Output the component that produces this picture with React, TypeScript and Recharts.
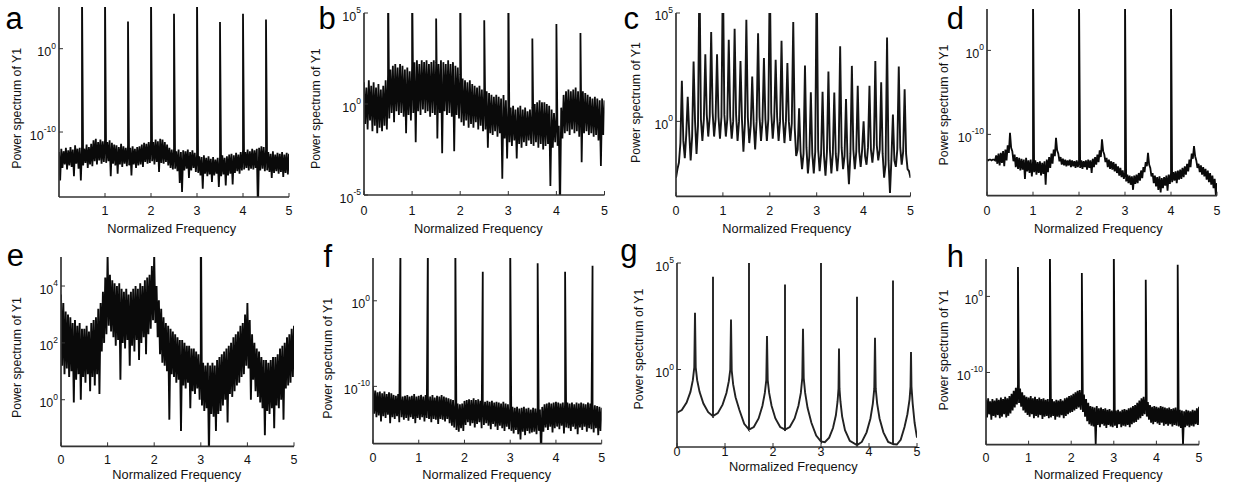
import React from 'react';
import { LineChart, Line, XAxis, YAxis } from 'recharts';

const FONT = '"Liberation Sans", Arial, Helvetica, sans-serif';

// Frequency sampling of the spectra (normalized frequency units)
const NOISE_STEP = 0.025;
const COMB_STEP = 0.03125;

// ---------------- DATA: log10 of the power spectrum ----------------
// a
const aPower = [
  -12.4,-15.8,-12.0,-14.3,-12.3,-13.9,-11.9,-14.5,-12.2,-14.0,
  -11.8,-14.2,-12.1,-15.3,-11.6,-13.8,-12.0,-14.4,-11.9,-15.8,
  -11.7,-14.0,-12.0,-13.7,-11.5,-14.3,-11.8,-13.9,-11.4,-14.1,
  -11.0,-13.5,-10.8,-13.9,-11.2,-13.4,-10.9,-13.8,-11.1,-13.6,
  -10.9,-13.7,-11.2,-13.5,-11.0,-15.3,-11.3,-13.8,-11.5,-14.0,
  -11.6,-15.0,-11.8,-13.9,-11.4,-14.2,-11.7,-13.8,-11.9,-14.1,
  -11.6,-14.0,-11.9,-15.2,-11.7,-13.9,-12.0,-14.3,-11.8,-14.0,
  -11.7,-13.9,-11.5,-14.2,-11.3,-13.6,-11.4,-13.8,-11.2,-13.7,
  -11.0,-13.5,-11.2,-13.9,-10.9,-13.6,-11.1,-14.8,-10.8,-13.7,
  -10.9,-13.8,-11.2,-13.6,-11.5,-14.0,-11.9,-14.3,-12.1,-14.5,
  -12.0,-14.4,-12.3,-14.7,-12.1,-16.1,-12.4,-17.2,-12.2,-14.6,
  -12.3,-14.4,-12.1,-15.5,-12.4,-14.6,-12.2,-14.3,-12.5,-14.8,
  -12.7,-14.9,-12.9,-15.2,-13.0,-16.8,-12.8,-15.0,-13.1,-15.3,
  -12.9,-15.1,-13.2,-16.0,-13.0,-15.2,-13.3,-15.0,-13.1,-16.6,
  -13.0,-15.3,-12.8,-15.1,-13.1,-16.4,-12.9,-15.2,-12.7,-15.0,
  -12.6,-16.3,-12.8,-14.9,-12.5,-14.7,-12.7,-15.0,-12.4,-14.6,
  -12.2,-14.5,-12.4,-14.3,-12.1,-14.6,-12.3,-14.4,-12.0,-14.5,
  -12.2,-14.3,-12.0,-19.5,-11.9,-14.6,-11.7,-14.4,-11.8,-14.7,
  -12.1,-14.6,-12.4,-14.8,-12.6,-15.5,-12.3,-14.9,-12.7,-14.7,
  -12.5,-15.0,-12.6,-14.8,-12.4,-15.4,-12.7,-14.9,-12.5,-15.1,
  -12.6,
];
const aSpikeFreq = [0.5, 1, 1.5, 2, 2.5, 3, 3.5, 4, 4.5];
const aSpikeTop = [7, 7, 3.25, 7, 4.2, 7, 3.2, 4.2, 3.5];

// b
const bPower = [
  1.2,-1.1,0.9,-1.4,1.3,-0.9,1.0,-1.5,1.2,-1.2,
  0.9,-1.6,1.1,-1.3,0.8,-1.5,1.0,-1.2,1.3,-1.4,
  1.6,-0.8,1.9,-0.5,2.1,-1.0,2.2,-0.4,2.0,-0.6,
  2.2,-0.5,2.1,-0.7,1.9,-1.6,2.0,-0.6,1.8,-0.9,
  2.1,-0.5,2.3,-2.1,2.4,-0.4,2.2,-0.6,2.4,-0.3,
  2.3,-0.5,2.4,-0.4,2.2,-0.7,2.3,-0.5,2.4,-0.6,
  2.3,-1.9,2.2,-0.5,2.4,-2.7,2.3,-0.4,2.2,-0.6,
  2.4,-0.5,2.2,-0.7,2.3,-2.6,2.1,-0.6,2.0,-0.8,
  1.6,-1.0,1.4,-1.2,1.3,-0.9,1.2,-1.3,1.3,-1.1,
  1.1,-1.3,1.0,-1.0,0.9,-1.4,1.0,-1.2,0.8,-1.5,
  0.9,-1.4,0.7,-2.4,0.6,-1.6,0.5,-1.7,0.4,-1.5,
  0.5,-1.8,0.4,-1.6,0.3,-4.1,0.5,-1.9,0.2,-3.0,
  -0.1,-2.1,-0.2,-2.3,-0.1,-2.0,-0.3,-3.0,-0.2,-2.2,
  -0.1,-2.4,-0.3,-2.1,-0.2,-2.3,-0.4,-2.0,-0.3,-2.2,
  -0.2,-2.3,0.0,-2.1,0.1,-2.4,0.2,-2.2,0.1,-2.5,
  0.1,-2.3,0.0,-2.2,-0.1,-4.5,-0.3,-2.4,-0.5,-2.1,
  -0.6,-2.3,-1.2,-6.0,-0.2,-1.9,0.5,-1.6,0.7,-1.5,
  0.8,-1.7,0.7,-1.4,0.8,-1.6,0.9,-1.5,0.7,-1.8,
  0.8,-3.2,0.7,-1.6,0.6,-1.5,0.5,-1.7,0.4,-1.6,
  0.3,-1.8,0.4,-1.7,0.3,-2.0,0.2,-3.4,0.3,-1.7,
  0.2,
];
const bSpikeFreq = [0.5, 1, 1.5, 2, 2.5, 3, 3.5, 4, 4.5];
const bSpikeTop = [7, 7, 4.7, 7, 4.6, 7, 3.6, 4.4, 3.9];

// c : comb spectrum, 4 samples per 1/8 period (peak, shoulder, valley, shoulder)
const cPower = [
  -2.6,-2.2,-1.9,-1.0,
  1.87,-0.9,-1.7,-0.6,
  1.14,-0.5,-1.8,-0.7,
  2.76,0.0,-1.5,-0.2,
  7,0.1,-0.9,0.1,
  3.1,0.3,-0.7,0.2,
  4.12,0.4,-0.7,0.1,
  3.1,0.2,-0.8,0.2,
  7,0.3,-0.7,0.1,
  3.76,0.2,-0.8,0.0,
  4.27,0.3,-0.9,0.0,
  2.79,0.1,-1.4,-0.1,
  4.69,0.2,-1.0,-0.2,
  2.07,-0.1,-1.3,0.0,
  4.07,0.2,-0.9,0.0,
  2.92,0.1,-0.9,0.1,
  7,0.4,-0.8,0.1,
  2.84,0.2,-0.9,0.0,
  3.72,0.1,-1.0,0.0,
  2.69,0.0,-0.9,-0.1,
  4.58,-0.3,-1.6,-1.3,
  0.6,-1.4,-2.2,-1.5,
  2.58,-1.2,-2.4,-1.6,
  1.34,-1.5,-2.4,-1.4,
  7,-1.3,-2.3,-1.5,
  1.37,-1.6,-2.5,-1.4,
  2.3,-1.3,-2.4,-1.5,
  1.33,-1.5,-2.3,-1.4,
  3.46,-1.2,-2.2,-1.6,
  1.03,-1.7,-2.9,-1.5,
  2.56,-1.3,-2.2,-1.4,
  1.64,-1.4,-2.1,-1.3,
  0.0,-1.6,-2.0,-1.2,
  1.64,-1.3,-1.9,-1.2,
  2.79,-1.1,-1.8,-1.3,
  1.81,-1.5,-2.6,-2.0,
  3.87,-1.8,-3.3,-1.7,
  0.32,-1.8,-2.1,-1.3,
  2.53,-1.2,-2.0,-1.4,
  1.48,-1.5,-2.2,-2.3,
  -2.6,
];

// d
const dPower = [
  -13.0,-13.1,-13.0,-13.0,-13.1,-13.0,-13.0,-13.1,-12.5,-13.5,
  -12.3,-13.7,-12.2,-13.4,-12.0,-13.8,-11.8,-13.1,-11.3,-12.2,
  -9.8,-11.6,-12.0,-13.2,-12.4,-13.9,-12.7,-14.1,-12.8,-14.3,
  -12.9,-14.2,-13.0,-15.3,-12.8,-14.4,-13.1,-14.6,-13.0,-15.0,
  -13.2,-14.5,-13.1,-14.8,-13.3,-14.6,-13.2,-14.9,-13.4,-14.7,
  -13.2,-16.0,-13.0,-14.5,-12.7,-14.0,-12.3,-13.5,-11.8,-12.6,
  -10.4,-11.9,-12.3,-13.2,-12.7,-13.6,-12.9,-13.7,-13.0,-13.8,
  -13.1,-13.7,-13.0,-13.9,-13.1,-13.8,-13.2,-14.0,-13.1,-13.9,
  -13.2,-14.0,-13.1,-14.1,-13.2,-13.9,-13.1,-14.2,-13.0,-14.0,
  -13.1,-14.6,-12.9,-13.9,-12.7,-13.6,-12.4,-13.3,-11.9,-12.7,
  -10.6,-12.0,-12.4,-13.3,-12.8,-13.9,-13.0,-14.1,-13.2,-14.2,
  -13.3,-14.4,-13.5,-14.6,-13.8,-14.9,-14.0,-15.1,-14.3,-15.3,
  -14.6,-15.6,-14.8,-15.8,-14.9,-16.0,-15.0,-16.6,-14.9,-15.9,
  -14.8,-15.8,-14.6,-15.5,-14.3,-15.2,-13.9,-14.5,-13.3,-13.8,
  -12.2,-13.6,-14.0,-15.0,-14.6,-15.8,-14.9,-16.2,-15.1,-16.6,
  -15.0,-16.9,-15.2,-16.4,-15.1,-16.1,-14.9,-16.7,-14.8,-15.9,
  -14.6,-15.7,-14.5,-15.5,-14.4,-15.8,-14.3,-15.4,-14.2,-15.3,
  -14.0,-15.1,-13.8,-14.8,-13.5,-14.4,-13.0,-13.9,-12.3,-12.9,
  -11.4,-12.6,-13.1,-14.0,-13.5,-14.5,-13.7,-14.8,-13.9,-15.0,
  -14.1,-15.4,-14.3,-15.7,-14.6,-16.0,-14.9,-16.4,-15.3,-17.2,
  -15.8,
];
const dSpikeFreq = [1, 2, 3, 4];
const dSpikeTop = [7, 7, 7, 7];

// e
const ePower = [
  3.7,1.2,3.4,0.9,3.1,1.1,3.0,0.8,2.9,1.0,
  2.7,-0.1,2.8,0.7,2.6,0.9,2.7,0.0,2.5,0.8,
  2.5,0.6,2.6,0.9,2.4,0.3,2.7,0.8,2.8,0.5,
  2.9,0.9,3.2,0.2,3.4,1.7,3.8,2.0,4.3,2.3,
  5.1,2.6,4.4,2.4,4.2,2.2,4.1,1.9,4.0,2.1,
  4.1,0.7,3.9,2.0,3.8,1.8,3.9,2.1,3.7,1.2,
  3.8,1.9,3.9,1.7,4.0,2.1,3.9,1.4,4.1,2.0,
  4.0,2.2,4.2,1.6,4.3,2.3,4.4,2.5,4.7,2.8,
  5.1,2.7,4.0,2.2,3.5,1.6,3.2,1.3,2.9,1.2,
  2.7,1.0,2.6,-0.7,2.5,0.9,2.4,0.8,2.3,0.6,
  2.2,0.7,2.1,-1.1,2.1,0.5,2.0,0.4,1.9,0.6,
  1.9,-0.3,1.8,0.3,1.8,0.2,1.7,0.4,1.6,0.0,
  1.4,-0.2,1.3,-0.4,1.2,-0.3,1.3,-2.0,1.2,-0.5,
  1.3,-0.6,1.2,-1.1,1.4,-0.5,1.5,-0.4,1.6,-0.2,
  1.7,0.0,1.8,-0.8,1.9,0.2,2.0,0.1,2.2,0.3,
  2.3,0.5,2.4,0.6,2.6,0.8,2.7,0.9,3.0,1.2,
  3.4,1.1,2.8,0.0,2.3,0.7,2.0,0.3,1.8,0.1,
  1.7,-0.1,1.5,-0.3,1.4,-1.25,1.4,-0.4,1.3,-0.5,
  1.4,-0.3,1.5,-1.0,1.5,-0.2,1.6,-0.3,1.8,0.0,
  1.9,-0.7,2.0,0.4,2.2,0.5,2.3,0.6,2.5,0.8,
  2.6,
];
const eSpikeFreq = [3];
const eSpikeTop = [7];

// f
const fPower = [
  -10.0,-13.2,-10.5,-13.6,-10.7,-13.4,-10.6,-14.1,-10.8,-13.5,
  -10.6,-13.7,-10.9,-13.3,-10.7,-14.3,-10.8,-13.6,-11.0,-13.8,
  -11.1,-13.5,-10.9,-14.2,-11.0,-13.6,-11.2,-13.9,-11.1,-13.7,
  -11.0,-14.0,-11.2,-13.6,-11.1,-13.8,-10.9,-14.3,-11.2,-13.7,
  -11.1,-13.9,-11.0,-13.6,-11.2,-14.1,-11.0,-13.7,-11.1,-13.8,
  -11.2,-14.2,-11.0,-13.8,-11.3,-13.9,-11.1,-14.4,-11.2,-13.8,
  -11.0,-13.9,-11.2,-14.1,-11.3,-13.8,-11.4,-14.3,-11.5,-14.6,
  -11.6,-14.8,-11.9,-15.1,-12.0,-15.3,-12.1,-14.9,-12.0,-15.2,
  -11.7,-14.5,-11.6,-14.2,-11.5,-14.6,-11.6,-14.3,-11.4,-14.8,
  -11.6,-14.4,-11.5,-14.2,-11.7,-14.9,-11.6,-14.5,-11.8,-14.3,
  -11.7,-14.6,-11.8,-15.0,-11.7,-14.4,-11.9,-14.7,-11.8,-15.1,
  -11.9,-14.6,-12.0,-14.9,-11.8,-15.2,-12.0,-14.7,-12.1,-15.0,
  -12.3,-15.2,-12.4,-15.5,-12.5,-15.1,-12.4,-15.6,-12.6,-16.2,
  -12.5,-15.3,-12.4,-15.7,-12.6,-15.2,-12.5,-15.5,-12.7,-15.4,
  -12.5,-15.3,-12.6,-15.6,-12.5,-15.2,-12.7,-18.0,-12.4,-15.3,
  -12.1,-14.8,-12.0,-15.1,-11.9,-14.7,-12.0,-15.4,-11.9,-14.9,
  -11.8,-14.7,-11.9,-15.0,-12.0,-14.6,-11.9,-15.5,-11.8,-14.8,
  -11.9,-14.9,-12.0,-15.2,-11.9,-14.7,-12.1,-15.0,-11.9,-15.6,
  -12.0,-14.8,-11.9,-15.1,-12.0,-14.7,-12.1,-15.3,-11.9,-14.9,
  -12.0,-15.0,-12.1,-15.4,-12.2,-14.9,-12.3,-15.7,-12.4,-15.2,
  -12.5,
];
const fSpikeFreq = [0.6, 1.2, 1.8, 2.4, 3.0, 3.6, 4.2, 4.8];
const fSpikeTop = [7, 7, 7, 3.4, 7, 4.4, 3.4, 4.1];

// g : smooth resonance curve with sharp lines
const gFreq = [
  0,0.1,0.2,0.28,0.33,0.36,0.375,0.39,0.42,0.47,0.55,0.65,0.75,0.75,0.75,
  0.85,0.95,1.03,1.08,1.11,1.125,1.14,1.17,1.22,1.3,1.4,1.5,1.5,1.5,
  1.6,1.7,1.78,1.83,1.86,1.875,1.89,1.92,1.97,2.05,2.15,2.25,2.25,2.25,
  2.35,2.45,2.53,2.58,2.61,2.625,2.64,2.67,2.72,2.8,2.9,3.0,3.0,3.0,3.08,
  3.17,3.25,3.31,3.345,3.365,3.375,3.385,3.405,3.44,3.5,3.6,3.75,3.75,3.75,
  3.85,3.95,4.03,4.08,4.11,4.125,4.14,4.17,4.22,4.3,4.4,4.5,4.5,4.5,4.58,
  4.66,4.74,4.8,4.845,4.865,4.875,4.885,4.91,4.95,5.0,
];
const gPower = [
  -2.03,-1.9,-1.55,-1.05,-0.5,0.1,2.66,0.1,-0.5,-1.05,-1.6,-2.0,-2.19,4.35,-2.19,
  -2.05,-1.65,-1.1,-0.55,0.0,2.35,-0.05,-0.7,-1.3,-1.9,-2.55,-2.82,7,-2.82,
  -2.7,-2.3,-1.7,-1.1,-0.5,1.57,-0.5,-1.1,-1.7,-2.3,-2.7,-2.82,3.99,-2.82,
  -2.7,-2.3,-1.7,-1.1,-0.4,1.91,-0.4,-1.1,-1.8,-2.5,-3.1,-3.38,7,-3.38,-3.41,
  -3.2,-2.75,-2.15,-1.5,-0.9,0.99,-0.9,-1.5,-2.2,-2.85,-3.35,-3.55,3.41,-3.55,
  -3.4,-2.95,-2.3,-1.6,-0.9,1.49,-0.9,-1.6,-2.3,-2.95,-3.4,-3.5,4.18,-3.5,-3.52,
  -3.3,-2.7,-2.1,-1.4,-0.8,0.82,-0.8,-1.6,-2.5,-3.2,
];

// h
const hPower = [
  -13.6,-15.9,-13.4,-15.5,-13.8,-16.2,-13.5,-15.7,-13.7,-15.9,
  -13.4,-15.6,-13.6,-16.0,-13.3,-15.8,-13.5,-15.5,-13.2,-15.9,
  -13.4,-15.7,-13.1,-15.4,-12.8,-15.0,-12.4,-14.6,-12.0,-14.2,
  -11.6,-14.0,-12.1,-14.5,-12.6,-15.0,-13.0,-15.3,-13.2,-15.6,
  -13.3,-15.8,-13.1,-15.5,-13.4,-16.0,-13.2,-15.7,-13.5,-15.9,
  -13.3,-15.6,-13.5,-16.1,-13.4,-15.8,-13.6,-15.7,-13.5,-16.0,
  -13.7,-15.9,-13.5,-15.7,-13.8,-16.2,-13.6,-15.8,-13.7,-15.9,
  -13.5,-15.6,-13.7,-16.0,-13.4,-15.7,-13.3,-15.5,-13.1,-15.3,
  -13.0,-15.2,-12.8,-15.0,-12.6,-14.8,-12.4,-14.6,-12.3,-14.9,
  -12.4,-15.2,-12.9,-15.8,-13.5,-16.4,-14.0,-16.8,-14.4,-17.0,
  -14.5,-17.1,-14.6,-19.5,-14.4,-16.9,-14.7,-17.2,-14.6,-16.8,
  -14.8,-17.0,-14.7,-17.3,-14.9,-16.9,-14.8,-17.1,-15.0,-17.2,
  -14.8,-17.0,-15.0,-17.3,-14.9,-16.8,-15.1,-17.2,-14.9,-17.0,
  -14.8,-17.1,-14.9,-16.9,-14.7,-17.2,-14.6,-16.8,-14.4,-16.6,
  -14.3,-16.5,-14.0,-16.2,-13.7,-16.0,-13.4,-15.7,-13.2,-15.5,
  -13.4,-15.8,-13.9,-16.2,-14.3,-16.6,-14.5,-16.8,-14.4,-16.5,
  -14.5,-16.7,-14.6,-16.9,-14.4,-16.6,-14.5,-17.0,-14.6,-16.8,
  -14.7,-17.0,-14.6,-16.8,-14.8,-17.1,-14.7,-16.9,-14.6,-17.0,
  -14.8,-17.1,-14.9,-17.3,-15.0,-19.5,-15.1,-17.2,-14.9,-17.0,
  -15.0,-17.2,-15.1,-17.0,-14.9,-17.1,-15.0,-16.8,-14.7,-16.9,
  -14.5,
];
const hSpikeFreq = [0.75, 1.5, 2.25, 3.0, 3.75, 4.5];
const hSpikeTop = [3.86, 7, 3.07, 7, 2.2, 4.17];

const X_TICKS_FULL = [0, 1, 2, 3, 4, 5];
const X_TICKS_A = [1, 2, 3, 4, 5];

// ---------------- table building ----------------
type Row = { f: number; v: number };
const gridRows = (step: number, exps: number[]): Row[] =>
  exps.map((e, i) => ({ f: i * step, v: Math.pow(10, e) }));
const pairRows = (fs: number[], exps: number[]): Row[] =>
  fs.map((f, i) => ({ f, v: Math.pow(10, exps[i]) }));
const withSpikes = (rows: Row[], spikes: Row[]): Row[] =>
  rows.concat(spikes).sort((p, q) => p.f - q.f);

const aData = withSpikes(gridRows(NOISE_STEP, aPower), pairRows(aSpikeFreq, aSpikeTop));
const bData = withSpikes(gridRows(NOISE_STEP, bPower), pairRows(bSpikeFreq, bSpikeTop));
const cData = gridRows(COMB_STEP, cPower);
const dData = withSpikes(gridRows(NOISE_STEP, dPower), pairRows(dSpikeFreq, dSpikeTop));
const eData = withSpikes(gridRows(NOISE_STEP, ePower), pairRows(eSpikeFreq, eSpikeTop));
const fData = withSpikes(gridRows(NOISE_STEP, fPower), pairRows(fSpikeFreq, fSpikeTop));
const gData = pairRows(gFreq, gPower);
const hData = withSpikes(gridRows(NOISE_STEP, hPower), pairRows(hSpikeFreq, hSpikeTop));

// ---------------- layout ----------------
type Panel = {
  id: string;
  data: Row[];
  box: [number, number, number, number];
  yDomain: [number, number];
  yTicks: number[];
  xTicks: number[];
  xTickOff: number;
  letter: [number, number];
  xTitle: [number, number];
  yTitle: [number, number];
  lineW: number;
  lineC: string;
};

const PANELS: Panel[] = [
  { id: 'a', data: aData, box: [59, 6.7, 289, 196.7], yDomain: [1.6e-18, 1e5], yTicks: [1e-10, 1], xTicks: X_TICKS_A, xTickOff: 18.3, letter: [5.5, 29], xTitle: [171.7, 232.5], yTitle: [21.2, 108.3], lineW: 1.8, lineC: '#0a0a0a' },
  { id: 'b', data: bData, box: [363.5, 13, 604, 195], yDomain: [1e-5, 1e5], yTicks: [1e-5, 1, 1e5], xTicks: X_TICKS_FULL, xTickOff: 20, letter: [318.5, 29.3], xTitle: [478.3, 232.5], yTitle: [319.5, 108.7], lineW: 1.8, lineC: '#0a0a0a' },
  { id: 'c', data: cData, box: [675.5, 12.7, 910, 196], yDomain: [3.5e-4, 1e5], yTicks: [1, 1e5], xTicks: X_TICKS_FULL, xTickOff: 19, letter: [623.5, 28.5], xTitle: [786.7, 232.5], yTitle: [640.2, 102.5], lineW: 1.9, lineC: '#151515' },
  { id: 'd', data: dData, box: [986.7, 9.3, 1216.7, 196], yDomain: [5e-18, 8.5e4], yTicks: [1e-10, 1], xTicks: X_TICKS_FULL, xTickOff: 19, letter: [946.8, 29.3], xTitle: [1098.3, 232.5], yTitle: [947.8, 105], lineW: 1.8, lineC: '#0a0a0a' },
  { id: 'e', data: eData, box: [61, 256.7, 294, 446], yDomain: [2.3e-2, 1.05e5], yTicks: [1, 1e2, 1e4], xTicks: X_TICKS_FULL, xTickOff: 17.3, letter: [6.8, 266], xTitle: [176.7, 478.7], yTitle: [21.2, 357.5], lineW: 1.9, lineC: '#0a0a0a' },
  { id: 'f', data: fData, box: [373, 258.3, 601.7, 444], yDomain: [2e-17, 1e5], yTicks: [1e-10, 1], xTicks: X_TICKS_FULL, xTickOff: 18.7, letter: [323.5, 266.7], xTitle: [486.7, 478.7], yTitle: [331.8, 358.3], lineW: 1.8, lineC: '#0a0a0a' },
  { id: 'g', data: gData, box: [677, 263, 917, 447], yDomain: [2.3e-4, 1e5], yTicks: [1, 1e5], xTicks: X_TICKS_FULL, xTickOff: 9, letter: [620.2, 260.7], xTitle: [793.3, 470.7], yTitle: [642.8, 349], lineW: 1.9, lineC: '#222' },
  { id: 'h', data: hData, box: [986, 259.3, 1199, 445], yDomain: [3.2e-20, 8.3e4], yTicks: [1e-10, 1], xTicks: X_TICKS_FULL, xTickOff: 17.7, letter: [946.8, 266.7], xTitle: [1098.3, 478.7], yTitle: [947.8, 350], lineW: 1.8, lineC: '#0a0a0a' },
];

const YW = 40;
const MT = 14;
const MR = 4;
const XH = 30;
const BOX = '#333';

const makeXTick = (off: number) => (props: any) => {
  const { x, y, payload } = props;
  return (
    <text x={x} y={y + off} textAnchor="middle" fontSize={12.5} fill="#111" fontFamily={FONT}>
      {payload.value}
    </text>
  );
};

const YTick = (props: any) => {
  const { x, y, payload } = props;
  const e = Math.round(Math.log10(payload.value));
  return (
    <text x={x} y={y + 7.5} textAnchor="end" fontSize={12.5} fill="#111" fontFamily={FONT}>
      10<tspan dy={-7.5} fontSize={8.5}>{e}</tspan>
    </text>
  );
};

function PanelChart({ p }: { p: Panel }) {
  const [x0, y0, x1, y1] = p.box;
  const w = x1 - x0 + YW + MR;
  const h = y1 - y0 + MT + XH;
  return (
    <div style={{ position: 'absolute', left: x0 - YW, top: y0 - MT, width: w, height: h }}>
      <LineChart width={w} height={h} data={p.data} margin={{ top: MT, right: MR, bottom: 0, left: 0 }}>
        <XAxis
          xAxisId="b"
          dataKey="f"
          type="number"
          domain={[0, 5]}
          allowDataOverflow
          ticks={p.xTicks}
          interval={0}
          height={XH}
          tickSize={-4}
          tickMargin={4}
          tick={makeXTick(p.xTickOff)}
          axisLine={{ stroke: BOX, strokeWidth: 1.7 }}
          tickLine={{ stroke: BOX, strokeWidth: 1 }}
        />
        <XAxis
          xAxisId="t"
          orientation="top"
          dataKey="f"
          type="number"
          domain={[0, 5]}
          allowDataOverflow
          ticks={p.xTicks}
          interval={0}
          height={0}
          tickSize={-4}
          tick={false}
          axisLine={{ stroke: BOX, strokeWidth: 1.7 }}
          tickLine={{ stroke: BOX, strokeWidth: 1 }}
        />
        <YAxis
          yAxisId="l"
          type="number"
          scale="log"
          domain={p.yDomain}
          allowDataOverflow
          ticks={p.yTicks}
          interval={0}
          width={YW}
          tickSize={-4}
          tickMargin={7}
          tick={YTick}
          axisLine={{ stroke: BOX, strokeWidth: 1.7 }}
          tickLine={{ stroke: BOX, strokeWidth: 1 }}
        />
        <YAxis
          yAxisId="r"
          orientation="right"
          type="number"
          scale="log"
          domain={p.yDomain}
          allowDataOverflow
          ticks={p.yTicks}
          interval={0}
          width={0}
          tickSize={-4}
          tick={false}
          axisLine={{ stroke: BOX, strokeWidth: 1.7 }}
          tickLine={{ stroke: BOX, strokeWidth: 1 }}
        />
        <Line
          xAxisId="b"
          yAxisId="l"
          type="linear"
          dataKey="v"
          stroke={p.lineC}
          strokeWidth={p.lineW}
          dot={false}
          activeDot={false}
          isAnimationActive={false}
        />
      </LineChart>
    </div>
  );
}

export default function App() {
  return (
    <div
      style={{
        position: 'absolute',
        left: 0,
        top: 0,
        width: 1236,
        height: 486,
        background: '#fff',
        fontFamily: FONT,
        overflow: 'hidden',
      }}
    >
      {PANELS.map((p) => (
        <PanelChart key={p.id} p={p} />
      ))}
      <svg
        width={1236}
        height={486}
        style={{ position: 'absolute', left: 0, top: 0, pointerEvents: 'none' }}
        fontFamily={FONT}
      >
        {PANELS.map((p) => (
          <g key={p.id}>
            <text x={p.letter[0]} y={p.letter[1]} fontSize={31} fill="#000">
              {p.id}
            </text>
            <text x={p.xTitle[0]} y={p.xTitle[1]} textAnchor="middle" fontSize={12.8} fill="#111">
              Normalized Frequency
            </text>
            <text
              transform={`translate(${p.yTitle[0]},${p.yTitle[1]}) rotate(-90)`}
              textAnchor="middle"
              fontSize={12.3}
              fill="#111"
            >
              Power spectrum of Y1
            </text>
          </g>
        ))}
      </svg>
    </div>
  );
}
